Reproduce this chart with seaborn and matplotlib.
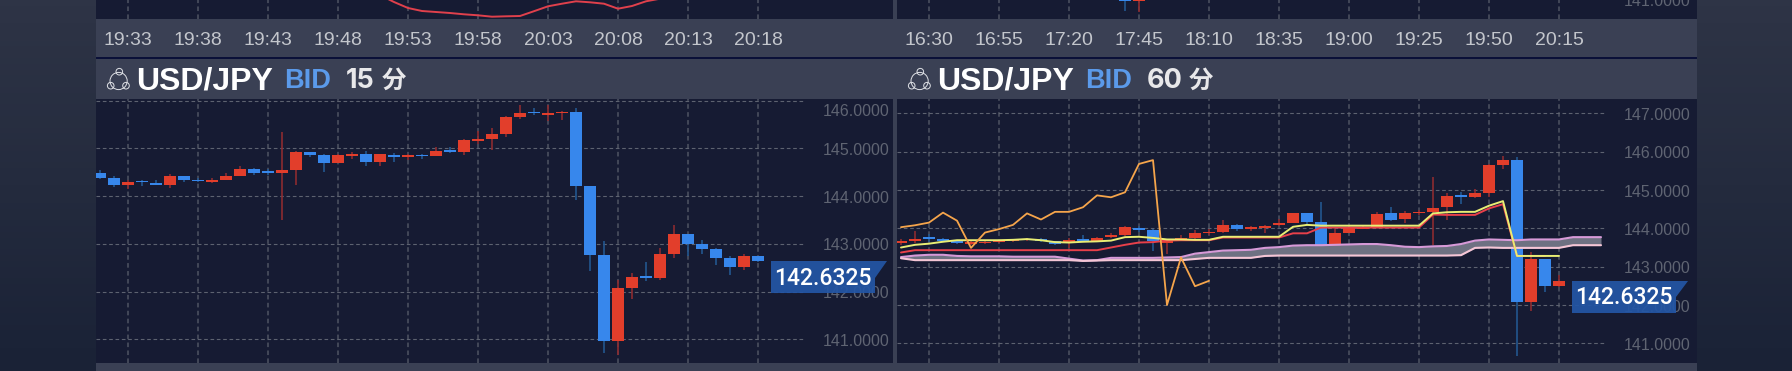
import numpy as np
import pandas as pd
import matplotlib.pyplot as plt
import seaborn as sns
from matplotlib.patches import Circle, Polygon, Rectangle

W, H = 1792, 371
BG_PANEL = '#161b33'
BAND = '#3a4054'
UP, DOWN = '#e23e2b', '#3787ec'
UP_WICK, DOWN_WICK = '#8c2b30', '#23568f'
SANS = ['Liberation Sans', 'DejaVu Sans']

# --- data: 15 min panel (index -2 .. 45) ---
idx_15 = list(range(-2, 46))
open_15 = [144.48, 144.38, 144.24, 144.32, 144.28, 144.23, 144.41, 144.34, 144.30, 144.34, 144.43, 144.57,
           144.53, 144.49, 144.55, 144.92, 144.85, 144.69, 144.83, 144.87, 144.71, 144.86, 144.81, 144.86,
           144.83, 144.97, 144.93, 145.15, 145.20, 145.29, 145.66, 145.77, 145.70, 145.73, 145.77, 144.22,
           142.76, 140.97, 142.08, 142.33, 142.28, 142.79, 143.21, 143.00, 142.89, 142.70, 142.51, 142.75]
high_15 = [144.55, 144.43, 144.34, 144.34, 144.34, 144.46, 144.43, 144.38, 144.37, 144.49, 144.62, 144.59,
           144.56, 145.34, 144.95, 144.93, 144.88, 144.88, 144.92, 144.94, 144.88, 144.90, 144.87, 144.88,
           145.02, 145.02, 145.20, 145.36, 145.43, 145.67, 145.90, 145.84, 145.90, 145.79, 145.84, 144.22,
           143.06, 142.24, 142.38, 142.62, 142.91, 143.39, 143.21, 143.07, 142.91, 142.75, 142.79, 142.75]
low_15 = [144.36, 144.18, 144.14, 144.20, 144.23, 144.16, 144.30, 144.30, 144.27, 144.34, 144.43, 144.45,
          144.45, 143.50, 144.23, 144.82, 144.50, 144.69, 144.78, 144.63, 144.63, 144.71, 144.76, 144.78,
          144.83, 144.91, 144.85, 145.10, 144.97, 145.24, 145.61, 145.70, 145.58, 145.59, 143.92, 142.44,
          140.71, 140.67, 141.85, 142.23, 142.24, 142.71, 142.75, 142.79, 142.56, 142.35, 142.45, 142.61]
close_15 = [144.38, 144.24, 144.30, 144.29, 144.23, 144.41, 144.34, 144.31, 144.34, 144.42, 144.57, 144.49,
            144.48, 144.55, 144.92, 144.85, 144.69, 144.85, 144.87, 144.71, 144.87, 144.81, 144.85, 144.83,
            144.94, 144.93, 145.17, 145.19, 145.29, 145.66, 145.73, 145.73, 145.73, 145.77, 144.22, 142.76,
            140.97, 142.08, 142.31, 142.28, 142.79, 143.21, 143.00, 142.89, 142.71, 142.51, 142.75, 142.63]

# --- data: 60 min panel (index -2 .. 45) ---
idx_60 = list(range(-2, 46))
open_60 = [143.62, 143.67, 143.77, 143.72, 143.66, 143.59, 143.61, 143.64, 143.66, 143.69, 143.72, 143.66,
           143.61, 143.73, 143.67, 143.77, 143.83, 144.02, 143.96, 143.61, 143.71, 143.74, 143.87, 143.91,
           144.08, 143.98, 144.02, 144.08, 144.15, 144.39, 144.17, 143.48, 143.87, 143.99, 144.04, 144.39,
           144.24, 144.39, 144.43, 144.56, 144.88, 144.82, 144.93, 145.66, 145.78, 142.09, 143.21, 142.50]
high_60 = [143.71, 143.93, 143.84, 143.75, 143.69, 143.66, 143.67, 143.70, 143.71, 143.74, 143.74, 143.68,
           143.75, 143.82, 143.77, 143.89, 144.06, 144.05, 143.97, 143.71, 143.83, 143.95, 143.97, 144.21,
           144.12, 144.05, 144.09, 144.24, 144.41, 144.41, 144.68, 143.97, 144.06, 144.06, 144.43, 144.55,
           144.45, 144.48, 145.35, 144.93, 144.95, 145.02, 145.68, 145.90, 145.85, 143.38, 143.21, 142.78]
low_60 = [143.56, 143.61, 143.64, 143.65, 143.60, 143.57, 143.60, 143.63, 143.65, 143.68, 143.65, 143.57,
          143.48, 143.64, 143.64, 143.75, 143.80, 143.91, 143.42, 143.33, 143.71, 143.71, 143.83, 143.89,
          143.94, 143.94, 143.87, 144.06, 144.13, 144.09, 143.40, 143.45, 143.87, 143.98, 144.04, 144.19,
          144.15, 144.35, 143.56, 144.23, 144.63, 144.78, 144.83, 145.56, 140.68, 141.85, 142.35, 142.46]
close_60 = [143.67, 143.73, 143.72, 143.67, 143.61, 143.64, 143.65, 143.69, 143.69, 143.72, 143.66, 143.58,
            143.70, 143.67, 143.76, 143.83, 144.03, 143.96, 143.66, 143.71, 143.74, 143.88, 143.91, 144.08,
            143.98, 144.03, 144.06, 144.14, 144.39, 144.17, 143.49, 143.87, 144.02, 144.04, 144.37, 144.23,
            144.41, 144.43, 144.54, 144.85, 144.83, 144.92, 145.65, 145.77, 142.09, 143.21, 142.50, 142.63]

# --- data: 60 min indicator lines ---
orange_idx = list(range(-2, 21))
orange = [144.03, 144.08, 144.15, 144.41, 144.20, 143.49, 143.89, 143.98, 144.09, 144.39, 144.23, 144.43,
          144.43, 144.55, 144.86, 144.81, 144.94, 145.68, 145.78, 142.00, 143.24, 142.49, 142.63]
yellow_idx = list(range(-2, 46))
yellow = [143.50, 143.57, 143.60, 143.65, 143.69, 143.69, 143.69, 143.69, 143.70, 143.72, 143.69, 143.64,
          143.63, 143.65, 143.66, 143.68, 143.77, 143.78, 143.75, 143.71, 143.71, 143.70, 143.70, 143.78,
          143.78, 143.78, 143.78, 143.78, 144.04, 144.09, 144.07, 144.07, 144.07, 144.07, 144.07, 144.07,
          144.07, 144.07, 144.39, 144.42, 144.43, 144.43, 144.59, 144.71, 143.28, 143.28, 143.28, 143.28]
red_idx = list(range(-2, 45))
red = [143.37, 143.43, 143.43, 143.43, 143.43, 143.43, 143.43, 143.43, 143.43, 143.43, 143.43, 143.43,
       143.43, 143.43, 143.43, 143.50, 143.57, 143.63, 143.64, 143.68, 143.69, 143.69, 143.69, 143.76,
       143.76, 143.76, 143.76, 143.76, 143.87, 143.87, 144.02, 144.02, 144.02, 144.02, 144.02, 144.02,
       144.02, 144.02, 144.36, 144.35, 144.35, 144.35, 144.52, 144.63, 143.28, 143.28, 143.28]
cloud_idx = list(range(-2, 49))
cloud_upper = [143.25, 143.29, 143.31, 143.31, 143.28, 143.27, 143.27, 143.27, 143.26, 143.26, 143.26, 143.26,
               143.21, 143.16, 143.17, 143.23, 143.23, 143.23, 143.23, 143.24, 143.25, 143.34, 143.38, 143.42,
               143.43, 143.44, 143.49, 143.51, 143.55, 143.56, 143.56, 143.57, 143.58, 143.59, 143.59, 143.56,
               143.52, 143.51, 143.53, 143.54, 143.59, 143.68, 143.71, 143.70, 143.69, 143.71, 143.71, 143.71,
               143.77, 143.77, 143.77]
cloud_lower = [143.22, 143.17, 143.17, 143.17, 143.17, 143.17, 143.17, 143.17, 143.17, 143.17, 143.17, 143.17,
               143.17, 143.15, 143.16, 143.17, 143.17, 143.17, 143.17, 143.17, 143.17, 143.20, 143.23, 143.23,
               143.23, 143.23, 143.28, 143.29, 143.29, 143.29, 143.29, 143.29, 143.29, 143.29, 143.29, 143.29,
               143.29, 143.29, 143.29, 143.29, 143.30, 143.49, 143.50, 143.49, 143.49, 143.49, 143.49, 143.49,
               143.56, 143.56, 143.56]

# --- data: slivers of the upper panels ---
top_line_idx = list(range(18, 39))
top_line = [24, 17, 11, 8, 7, 6, 4.7, 3.7, 2.3, 2.7, 3, 7.8, 12.7, 15.3, 17.7, 16.7, 15.3, 10.3, 13, 17.7, 20.3]
top_idx = [14, 15]
top_open = [141.30, 140.97]
top_high = [141.40, 141.40]
top_low = [140.72, 140.69]
top_close = [140.97, 141.30]

price_ticks_15 = [146, 145, 144, 143, 142, 141]
price_ticks_60 = [147, 146, 145, 144, 143, 142, 141]
grid_idx = list(range(0, 50, 5))
time_labels_15 = ['19:33', '19:38', '19:43', '19:48', '19:53', '19:58', '20:03', '20:08', '20:13', '20:18']
time_labels_60 = ['16:30', '16:55', '17:20', '17:45', '18:10', '18:35', '19:00', '19:25', '19:50', '20:15']
last_price = '142.6325'


def px_axes(fig, x0, y0, x1, y1):
    return fig.add_axes([x0 / W, 1 - y1 / H, (x1 - x0) / W, (y1 - y0) / H])


def draw_grid(ax, h_ticks=None):
    ax.vlines(grid_idx, *ax.get_ylim(), colors='#4f5463', lw=1.1, linestyles=(0, (3.0, 2.2)), zorder=1)
    if h_ticks:
        ax.hlines(h_ticks, ax.get_xlim()[0], 48.3, colors='#5d6270', lw=0.8, linestyles=(0, (3.3, 2.4)), zorder=1)


def draw_candles(ax, idx, o, h, l, c):
    df = pd.DataFrame({'i': idx, 'open': o, 'high': h, 'low': l, 'close': c})
    rising = df['close'] >= df['open']
    ax.vlines(df['i'], df['low'], df['high'], colors=np.where(rising, UP_WICK, DOWN_WICK), lw=1.2, zorder=2)
    ax.bar(df['i'], (df['close'] - df['open']).abs(), bottom=df[['open', 'close']].min(axis=1), width=0.81,
           color=np.where(rising, UP, DOWN), linewidth=0, zorder=3)


def style_axes(ax, xlim, ylim, labels=None):
    ax.set_facecolor(BG_PANEL)
    ax.set_xlim(*xlim)
    ax.set_ylim(*ylim)
    ax.set_yticks([])
    ax.set_xlabel('')
    ax.set_ylabel('')
    ax.grid(False)
    for s in ax.spines.values():
        s.set_visible(False)
    if labels:
        ax.set_xticks(grid_idx, labels, fontsize=14, color='#c3c6cc', family=SANS)
        ax.tick_params(axis='x', length=0, pad=9.5)
    else:
        ax.set_xticks([])


def price_labels(ax, ticks, scale, overrides=None):
    for t in ticks:
        y = (overrides or {}).get(t, t - 2 / scale)
        ax.text(54.4, y, f'{t:.4f}', ha='right', va='center', fontsize=11.5, color='#5f6472', family=SANS, zorder=4)


def header(ov, x, pair_x, bid_x, num_x, kanji_x, num):
    for cx, cy in [(x + 9.3, 71.7), (x + 0.7, 85.7), (x + 16, 85.7)]:
        ov.add_patch(Circle((cx, cy), 3.3, fill=False, ec='#dfe1e6', lw=0.7))
    ov.add_patch(Circle((x + 8.6, 81), 8.6, fill=False, ec='#dfe1e6', lw=0.7))
    ov.text(pair_x, 81, 'USD/JPY', color='white', fontsize=23, fontweight='bold', va='center', family=SANS)
    ov.text(bid_x, 81, 'BID', color='#5b9aea', fontsize=19.5, fontweight='bold', va='center', family=SANS)
    ov.text(num_x, 81, num, color='#e8e8ea', fontsize=19.5, fontweight='bold', va='center',
            family=['Inter', 'Liberation Sans'])
    ov.text(kanji_x, 80.5, '分', color='#e8e8ea', fontsize=17.5, fontweight='bold', va='center',
            family=['Noto Sans CJK JP', 'DejaVu Sans'])


def price_tag(ov, x0, x1, notch, y0, ymid, y1):
    ov.add_patch(Polygon([(x0, y0), (x1, y0), (notch, ymid), (notch, y1), (x0, y1)], fc='#2356a5', ec='none',
                         alpha=0.93, zorder=5))
    ov.text((x0 + notch) / 2, ymid + 0.5, last_price, color='white', fontsize=16.5, fontweight='medium', ha='center',
            va='center', family=['Roboto', 'Liberation Sans'], zorder=6)


sns.set_theme(style='dark')
plt.rcParams['font.family'] = SANS

fig = plt.figure(figsize=(W / 100, H / 100), dpi=100)

# page background and chrome
bg = px_axes(fig, 0, 0, W, H)
bg.imshow(np.linspace(0, 1, 64)[:, None], aspect='auto', extent=(0, W, H, 0), vmin=0, vmax=1,
          cmap=sns.blend_palette(['#2e3446', '#1a2236'], as_cmap=True))
bg.set_xlim(0, W)
bg.set_ylim(H, 0)
bg.axis('off')
bg.add_patch(Rectangle((96, 0), 1601, H, fc=BAND, ec='none'))
bg.add_patch(Rectangle((96, 57), 1601, 2, fc='#0a1038', ec='none'))

XL_15 = (-32 / 14, 765 / 14)
XL_60 = (-32 / 14, 768 / 14)

# top slivers
top_l = px_axes(fig, 96, 0, 893, 19)
style_axes(top_l, XL_15, (0, 19), time_labels_15)
draw_grid(top_l)
sns.lineplot(x=top_line_idx, y=top_line, ax=top_l, color='#e0404c', lw=1.4, errorbar=None, legend=False, zorder=4)
style_axes(top_l, XL_15, (0, 19), time_labels_15)

top_r = px_axes(fig, 897, 0, 1697, 19)
style_axes(top_r, XL_60, (140.504, 141.0), time_labels_60)
draw_grid(top_r)
draw_candles(top_r, top_idx, top_open, top_high, top_low, top_close)
price_labels(top_r, [141], 38.33, {141: 140.96})

# 15 min panel
ax_15 = px_axes(fig, 96, 99, 893, 363)
style_axes(ax_15, XL_15, (140.504, 146.032))
draw_grid(ax_15, price_ticks_15)
draw_candles(ax_15, idx_15, open_15, high_15, low_15, close_15)
price_labels(ax_15, price_ticks_15, 47.75, {146: 145.78})
style_axes(ax_15, XL_15, (140.504, 146.032))

# 60 min panel
ax_60 = px_axes(fig, 897, 99, 1697, 363)
style_axes(ax_60, XL_60, (140.487, 147.374))
draw_grid(ax_60, price_ticks_60)
draw_candles(ax_60, idx_60, open_60, high_60, low_60, close_60)
ax_60.fill_between(cloud_idx, cloud_upper, cloud_lower, color='#6e7182', lw=0, zorder=4)
sns.lineplot(x=cloud_idx, y=cloud_upper, ax=ax_60, color='#d79ad8', lw=1.5, errorbar=None, legend=False, zorder=5)
sns.lineplot(x=cloud_idx, y=cloud_lower, ax=ax_60, color='#f5c6d6', lw=1.5, errorbar=None, legend=False, zorder=5)
sns.lineplot(x=red_idx, y=red, ax=ax_60, color='#e8404a', lw=1.4, errorbar=None, legend=False, zorder=5)
sns.lineplot(x=yellow_idx, y=yellow, ax=ax_60, color='#e9ee74', lw=1.4, errorbar=None, legend=False, zorder=6)
sns.lineplot(x=orange_idx, y=orange, ax=ax_60, color='#f6a54b', lw=1.3, errorbar=None, legend=False, zorder=7)
price_labels(ax_60, price_ticks_60, 38.33)
style_axes(ax_60, XL_60, (140.487, 147.374))

# overlay with header texts and last price tags
ov = px_axes(fig, 0, 0, W, H)
ov.set_xlim(0, W)
ov.set_ylim(H, 0)
ov.axis('off')
header(ov, 110, 136.5, 284.5, 346, 382, '15')
header(ov, 911, 937.5, 1085.5, 1147, 1189, '60')
price_tag(ov, 771, 887, 875, 261, 278, 293)
price_tag(ov, 1572, 1688, 1676, 281, 297, 313)

fig.savefig('out.png', dpi=100)
